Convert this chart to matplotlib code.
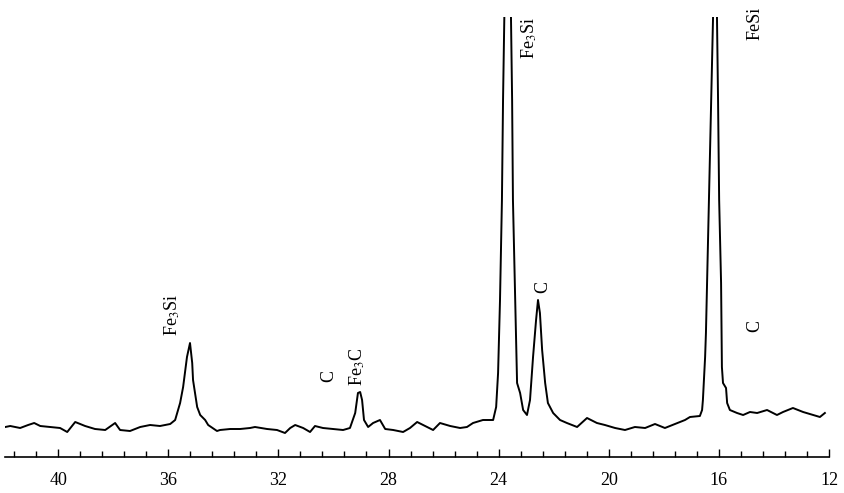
import matplotlib
matplotlib.use('Agg')
import matplotlib.pyplot as plt
from matplotlib.ticker import MultipleLocator

plt.rcParams['font.family'] = 'Liberation Serif'
plt.rcParams['mathtext.fontset'] = 'stix'

# 2theta (deg) and intensity (arb. units)
two_theta = [41.92, 41.74, 41.38, 41.09, 40.87, 40.65, 40.29, 39.93, 39.67, 39.38,
             39.02, 38.66, 38.29, 37.93, 37.75, 37.39, 37.02, 36.66, 36.30, 35.93,
             35.75, 35.57, 35.46, 35.32, 35.21, 35.13, 35.10, 34.95, 34.84, 34.66,
             34.55, 34.23, 34.12, 33.75, 33.39, 33.03, 32.85, 32.41, 32.05, 31.76,
             31.57, 31.39, 31.10, 30.85, 30.67, 30.38, 30.01, 29.65, 29.40, 29.21,
             29.11, 29.03, 28.96, 28.89, 28.74, 28.56, 28.31, 28.12, 27.83, 27.47,
             27.22, 26.96, 26.60, 26.38, 26.13, 25.76, 25.40, 25.15, 24.93, 24.57,
             24.20, 24.09, 24.02, 23.95, 23.88, 23.84, 23.80, 23.66, 23.55, 23.51,
             23.48, 23.40, 23.33, 23.22, 23.11, 22.97, 22.86, 22.75, 22.64, 22.57,
             22.50, 22.42, 22.31, 22.21, 22.02, 21.77, 21.52, 21.15, 20.79, 20.43,
             20.14, 19.77, 19.41, 19.05, 18.68, 18.32, 17.96, 17.59, 17.23, 17.05,
             16.69, 16.61, 16.58, 16.50, 16.47, 16.39, 16.32, 16.25, 16.21, 16.14,
             16.07, 16.03, 15.99, 15.92, 15.89, 15.85, 15.74, 15.70, 15.60, 15.34,
             15.12, 14.87, 14.61, 14.25, 13.89, 13.67, 13.31, 12.94, 12.58, 12.33,
             12.15]
intensity = [30, 31, 29, 32, 34, 31, 30, 29, 25, 35,
             31, 28, 27, 34, 27, 26, 30, 32, 31, 33,
             37, 54, 70, 100, 114, 94, 77, 50, 42, 37,
             32, 26, 27, 28, 28, 29, 30, 28, 27, 24,
             29, 32, 29, 25, 31, 29, 28, 27, 29, 44,
             64, 65, 57, 37, 30, 34, 37, 28, 27, 25,
             29, 35, 30, 27, 34, 31, 29, 30, 34, 37,
             37, 50, 84, 157, 257, 357, 424, 700, 437, 357,
             257, 157, 74, 64, 47, 42, 57, 100, 137, 157,
             144, 107, 74, 54, 44, 37, 34, 30, 39, 34,
             32, 29, 27, 30, 29, 33, 29, 33, 37, 40,
             41, 47, 57, 100, 124, 224, 307, 390, 442, 700,
             442, 357, 257, 174, 90, 74, 69, 54, 47, 44,
             42, 45, 44, 47, 42, 45, 49, 45, 42, 40,
             44]

labels = ['Fe$_3$Si', 'C', 'Fe$_3$C', 'Fe$_3$Si', 'C', 'FeSi', 'C']
label_x = [35.86, 30.16, 29.14, 22.90, 22.39, 14.69, 14.69]
label_y = [142, 81, 90, 419, 170, 434, 131]

fig = plt.figure(figsize=(8.45, 4.93), dpi=100)
ax = fig.add_axes([5 / 845, 36 / 493, 824 / 845, 440 / 493])

ax.plot(two_theta, intensity, color='black', lw=1.4)

for t, x, y in zip(labels, label_x, label_y):
    ax.text(x, y, t, rotation=90, ha='center', va='center', fontsize=13, clip_on=False)

ax.set_xlim(41.93, 12)
ax.set_ylim(0, 440)
ax.xaxis.set_major_locator(MultipleLocator(4))
ax.xaxis.set_minor_locator(MultipleLocator(0.8))
ax.tick_params(axis='x', which='both', direction='in', labelsize=13, pad=11, width=1)
ax.tick_params(axis='x', which='major', length=6)
ax.tick_params(axis='x', which='minor', length=4)
ax.set_yticks([])
for s in ['left', 'right', 'top']:
    ax.spines[s].set_visible(False)
ax.spines['bottom'].set_linewidth(1.2)

fig.savefig('out.png', dpi=100)
